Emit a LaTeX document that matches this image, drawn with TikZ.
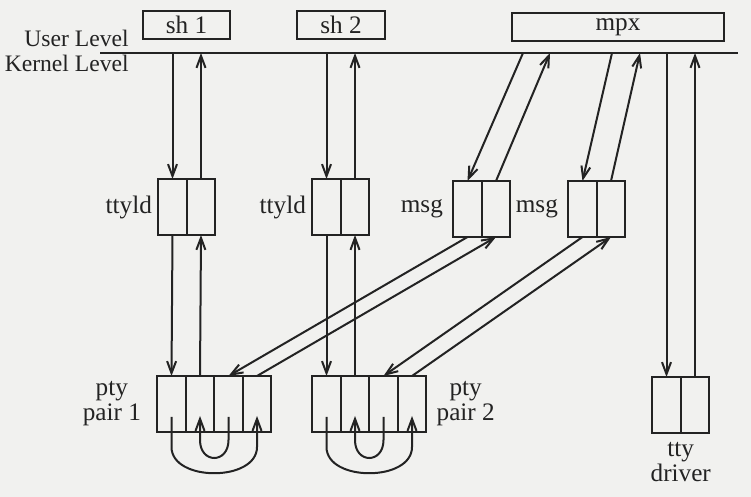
\documentclass[tikz,border=0pt]{standalone}
\usepackage{fontspec}
\setmainfont{Liberation Serif}
\usetikzlibrary{arrows.meta,positioning,calc}
\definecolor{InkGray}{RGB}{35,35,35}
\definecolor{PaperGray}{RGB}{241,241,239}
\tikzset{
  cell/.style={draw=InkGray,line width=1pt,minimum width=14.25pt,
    minimum height=28pt,inner sep=0pt,outer sep=0pt},
  procbox/.style={draw=InkGray,line width=1pt,minimum height=14pt,
    inner sep=0pt,outer sep=0pt,text=InkGray,font=\fontsize{12.6}{12.5}\selectfont},
  lbl/.style={inner sep=0pt,text=InkGray,align=center,
    font=\fontsize{12.6}{12.5}\selectfont},
  levellbl/.style={lbl,anchor=east,font=\fontsize{11.8}{12.5}\selectfont},
  arrow/.style={-{Straight Barb[length=6pt,width=4.5pt]},line width=1pt,InkGray},
  link/.style={line width=1pt,InkGray}
}

\begin{document}
\begin{tikzpicture}[x=0.5pt,y=-0.5pt]
  \fill[PaperGray] (0,0) rectangle (751,497);
  \useasboundingbox (0,0) rectangle (751,497);

  % user level processes
  \node[procbox,minimum width=43.5pt] (sh1) at (186.5,25) {sh 1};
  \node[procbox,minimum width=44pt] (sh2) at (341,25) {sh 2};
  \node[procbox,minimum width=106pt] (mpx) at (618,27) {mpx};

  \coordinate (lvlL) at (100,53);
  \coordinate (lvlR) at (738,53);
  \draw[link] (lvlL) -- (lvlR);
  \node[levellbl] (user) at (129,38) {User Level};
  \node[levellbl] (kern) at (129,63) {Kernel Level};

  % line disciplines and message modules
  \node[cell] (t1a) at (172.5,207) {};
  \node[cell,right=0pt of t1a] (t1b) {};
  \node[cell] (t2a) at (326.5,207) {};
  \node[cell,right=0pt of t2a] (t2b) {};
  \node[cell] (g1a) at (467.5,209) {};
  \node[cell,right=0pt of g1a] (g1b) {};
  \node[cell] (g2a) at (582.5,209) {};
  \node[cell,right=0pt of g2a] (g2b) {};
  \node[lbl,left=3pt of t1a] {ttyld};
  \node[lbl,left=3pt of t2a] {ttyld};
  \node[lbl,left=5pt of g1a] {msg};
  \node[lbl,left=5pt of g2a] {msg};

  % pseudo terminal pairs
  \node[cell] (p1a) at (171.5,404) {};
  \node[cell,right=0pt of p1a] (p1b) {};
  \node[cell,right=0pt of p1b] (p1c) {};
  \node[cell,right=0pt of p1c] (p1d) {};
  \node[cell] (p2a) at (326.5,404) {};
  \node[cell,right=0pt of p2a] (p2b) {};
  \node[cell,right=0pt of p2b] (p2c) {};
  \node[cell,right=0pt of p2c] (p2d) {};
  \node[lbl,left=8pt of p1a] {pty\\pair 1};
  \node[lbl,right=5pt of p2d] {pty\\pair 2};

  % terminal driver
  \node[cell] (d1a) at (666.5,405) {};
  \node[cell,right=0pt of d1a] (d1b) {};
  \node[lbl,below=4.5pt of d1a.south east] {tty\\driver};

  % user level <-> kernel
  \draw[arrow] (t1a.north |- lvlL) -- (t1a.north);
  \draw[arrow] (t1b.north) -- (t1b.north |- lvlL);
  \draw[arrow] (t2a.north |- lvlL) -- (t2a.north);
  \draw[arrow] (t2b.north) -- (t2b.north |- lvlL);
  \coordinate (mx1) at (523,53);
  \coordinate (mx2) at (550,53);
  \coordinate (mx3) at (612,53);
  \coordinate (mx4) at (640,53);
  \draw[arrow] (mx1) -- (g1a.north);
  \draw[arrow] (g1b.north) -- (mx2);
  \draw[arrow] (mx3) -- (g2a.north);
  \draw[arrow] (g2b.north) -- (mx4);
  \draw[arrow] (d1a.north |- lvlL) -- (d1a.north);
  \draw[arrow] (d1b.north) -- (d1b.north |- lvlR);

  % modules <-> pty
  \draw[arrow] (t1a.south) -- (p1a.north);
  \draw[arrow] (p1b.north) -- (t1b.south);
  \draw[arrow] (t2a.south) -- (p2a.north);
  \draw[arrow] (p2b.north) -- (t2b.south);
  \draw[arrow] (g1a.south) -- (p1c.north);
  \draw[arrow] (p1d.north) -- (g1b.south);
  \draw[arrow] (g2a.south) -- (p2c.north);
  \draw[arrow] (p2d.north) -- (g2b.south);

  % master <-> slave loops
  \draw[arrow] ([yshift=-6.5pt]p1a.center) -- ([yshift=-21.5pt]p1a.center)
    .. controls +(0,35) and +(0,35) .. ([yshift=-21.5pt]p1d.center)
    -- ([yshift=-6pt]p1d.center);
  \draw[arrow] ([yshift=-6.5pt]p1c.center) -- ([yshift=-18pt]p1c.center)
    .. controls +(0,24) and +(0,24) .. ([yshift=-18pt]p1b.center)
    -- ([yshift=-6pt]p1b.center);
  \draw[arrow] ([yshift=-6.5pt]p2a.center) -- ([yshift=-21.5pt]p2a.center)
    .. controls +(0,35) and +(0,35) .. ([yshift=-21.5pt]p2d.center)
    -- ([yshift=-6pt]p2d.center);
  \draw[arrow] ([yshift=-6.5pt]p2c.center) -- ([yshift=-18pt]p2c.center)
    .. controls +(0,24) and +(0,24) .. ([yshift=-18pt]p2b.center)
    -- ([yshift=-6pt]p2b.center);
\end{tikzpicture}
\end{document}
